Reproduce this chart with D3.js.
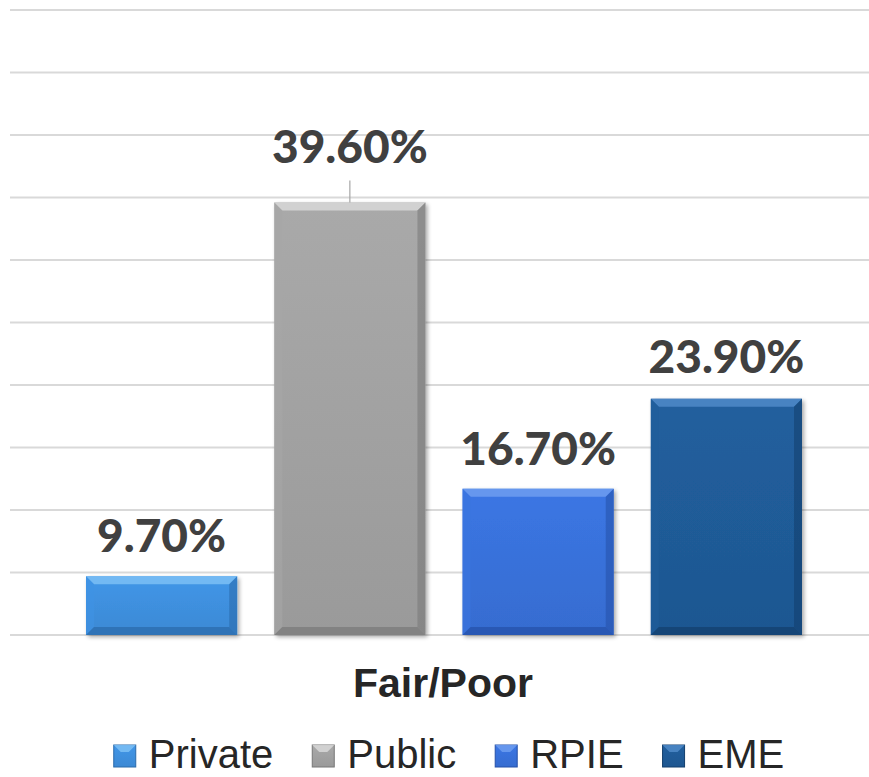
<!DOCTYPE html>
<html><head><meta charset="utf-8">
<script src="https://cdn.jsdelivr.net/npm/d3@7/dist/d3.min.js"></script>
<style>html,body{margin:0;padding:0;background:#fff;}svg{display:block;}</style>
</head><body>
<svg id="chart" width="869" height="777"></svg>
<script>
const categories = ["Private", "Public", "RPIE", "EME"];
const values = [9.7, 39.6, 16.7, 23.9];
const labels = ["9.70%", "39.60%", "16.70%", "23.90%"];
const colors = ["#3e8edc", "#a0a0a0", "#3870d8", "#1f5a96"];
const lightColors = ["#7cc0f4", "#d8d8d8", "#6f9ef0", "#4f8ac8"];
const darkColors = ["#2a6aaa", "#777777", "#2550a8", "#133e6c"];
const gridTicks = [5, 10, 15, 20, 25, 30, 35, 40, 45, 50, 55];
const groupLabel = "Fair/Poor";

const svg = d3.select("#chart");
const y = d3.scaleLinear().domain([5, 55]).range([635, 10]);
const x = d3.scaleBand().domain(categories).range([86, 802]).paddingInner(0.197).paddingOuter(0);

const defs = svg.append("defs");
categories.forEach((c, i) => {
  const g = defs.append("linearGradient").attr("id", "g" + i).attr("x1", 0).attr("x2", 0).attr("y1", 0).attr("y2", 1);
  g.append("stop").attr("offset", "0%").attr("stop-color", d3.color(colors[i]).brighter(0.15));
  g.append("stop").attr("offset", "100%").attr("stop-color", d3.color(colors[i]).darker(0.1));
});
const sh = defs.append("filter").attr("id", "sh").attr("x", "-10%").attr("y", "-10%").attr("width", "125%").attr("height", "125%");
sh.append("feGaussianBlur").attr("in", "SourceAlpha").attr("stdDeviation", 2);
sh.append("feOffset").attr("dx", 2).attr("dy", 2).attr("result", "b");
sh.append("feComponentTransfer").append("feFuncA").attr("type", "linear").attr("slope", 0.35);
const mg = sh.append("feMerge");
mg.append("feMergeNode");
mg.append("feMergeNode").attr("in", "SourceGraphic");

// gridlines
svg.append("g").selectAll("line").data(gridTicks).join("line")
  .attr("x1", 10).attr("x2", 869)
  .attr("y1", d => y(d)).attr("y2", d => y(d))
  .attr("stroke", "#d9d9d9").attr("stroke-width", 2);

// bars
const bw = x.bandwidth();
const bev = 8;
const bars = svg.append("g").selectAll("g").data(categories).join("g");
bars.each(function(c, i) {
  const g = d3.select(this);
  const x0 = x(c), x1 = x0 + bw, yt = y(values[i]), yb = y(5);
  g.append("rect").attr("x", x0).attr("y", yt).attr("width", bw).attr("height", yb - yt)
    .attr("fill", "url(#g" + i + ")").attr("filter", "url(#sh)");
  g.append("polygon").attr("points", [[x0, yt], [x1, yt], [x1 - bev, yt + bev], [x0 + bev, yt + bev]].map(p => p.join(",")).join(" "))
    .attr("fill", lightColors[i]).attr("opacity", 0.85);
  g.append("polygon").attr("points", [[x0, yt], [x0 + bev, yt + bev], [x0 + bev, yb - bev], [x0, yb]].map(p => p.join(",")).join(" "))
    .attr("fill", d3.color(colors[i]).brighter(0.1)).attr("opacity", 0.6);
  g.append("polygon").attr("points", [[x1, yt], [x1 - bev, yt + bev], [x1 - bev, yb - bev], [x1, yb]].map(p => p.join(",")).join(" "))
    .attr("fill", darkColors[i]).attr("opacity", 0.55);
  g.append("polygon").attr("points", [[x0, yb], [x0 + bev, yb - bev], [x1 - bev, yb - bev], [x1, yb]].map(p => p.join(",")).join(" "))
    .attr("fill", darkColors[i]).attr("opacity", 0.7);
});

// data labels
const labelOffset = [24, 40, 24, 26];
svg.append("g").selectAll("text").data(categories).join("text")
  .attr("x", c => x(c) + bw / 2)
  .attr("y", (c, i) => y(values[i]) - labelOffset[i])
  .attr("text-anchor", "middle")
  .attr("font-family", "Lato, 'Open Sans', sans-serif").attr("font-weight", 900)
  .attr("font-size", 46).attr("fill", "#404040")
  .text((c, i) => labels[i]);
svg.append("line")
  .attr("x1", x("Public") + bw / 2).attr("x2", x("Public") + bw / 2)
  .attr("y1", y(values[1]) - 22).attr("y2", y(values[1]))
  .attr("stroke", "#a6a6a6").attr("stroke-width", 1.2);

// category label
svg.append("text").attr("x", 443).attr("y", 697).attr("text-anchor", "middle")
  .attr("font-family", "'Liberation Sans', Arial, sans-serif").attr("font-weight", "bold")
  .attr("font-size", 41).attr("fill", "#262626").text(groupLabel);

// legend
const leg = svg.append("g");
const items = leg.selectAll("g").data(categories).join("g");
items.append("rect").attr("width", 22).attr("height", 22).attr("y", 745).attr("x", 0)
  .attr("fill", (c, i) => "url(#g" + i + ")").attr("stroke", (c, i) => darkColors[i]).attr("stroke-width", 1);
items.append("polygon").attr("points", "0,745 22,745 15,752 7,752").attr("fill", (c, i) => lightColors[i]).attr("opacity", 0.85);
items.append("text").attr("x", 35).attr("y", 768)
  .attr("font-family", "'Liberation Sans', Arial, sans-serif").attr("font-size", 40).attr("fill", "#262626")
  .text(c => c);
let widths = [];
items.each(function() { widths.push(d3.select(this).select("text").node().getComputedTextLength()); });
const gap = 39;
const total = widths.reduce((a, w) => a + 35 + w, 0) + gap * (widths.length - 1);
let cx = 449 - total / 2;
items.attr("transform", (c, i) => { const t = "translate(" + cx + ",0)"; cx += 35 + widths[i] + gap; return t; });
</script>
</body></html>
